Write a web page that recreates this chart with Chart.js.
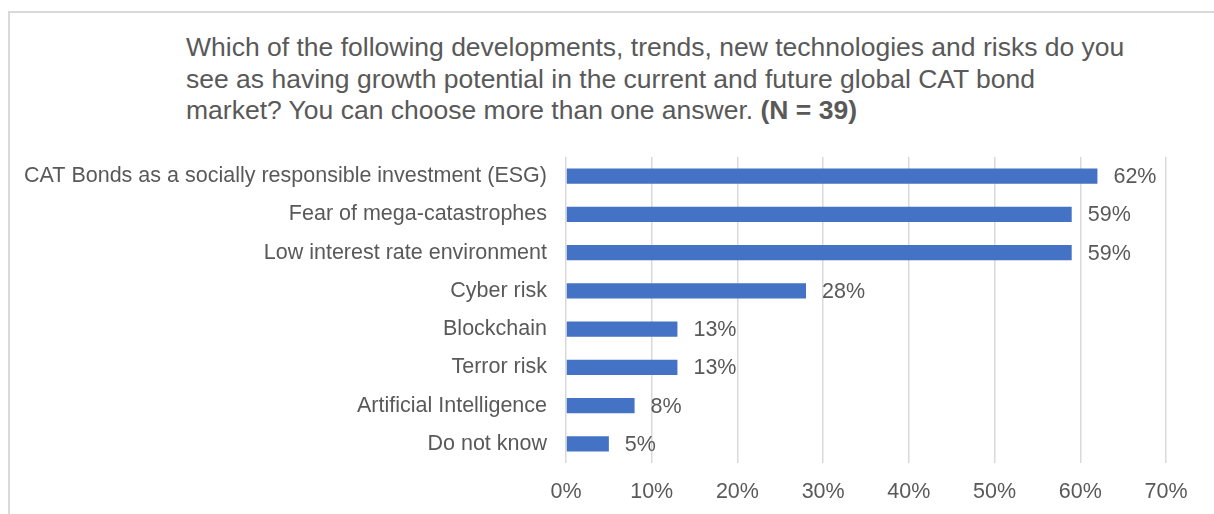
<!DOCTYPE html>
<html>
<head>
<meta charset="utf-8">
<script src="https://cdn.jsdelivr.net/npm/chart.js@4/dist/chart.umd.min.js"></script>
<style>
  html, body { margin: 0; padding: 0; background: #fff; }
  #wrap { position: relative; width: 1214px; height: 514px; overflow: hidden; }
  #frame {
    position: absolute; left: 8px; top: 11px; width: 1300px; height: 600px;
    border-top: 2px solid #d9d9d9; border-left: 2px solid #d9d9d9;
  }
  #title {
    position: absolute; left: 186px; top: 32px; width: 1020px;
    font-family: "Liberation Sans", Arial, sans-serif; font-size: 26.5px;
    line-height: 31.5px; color: #595959; white-space: nowrap;
  }
  #pointsChart { position: absolute; left: 0; top: 0; }
</style>
</head>
<body>
<div id="wrap">
  <div id="frame"></div>
  <div id="title">Which of the following developments, trends, new technologies and risks do you<br>see as having growth potential in the current and future global CAT bond<br>market? You can choose more than one answer. <b>(N = 39)</b></div>
  <canvas id="pointsChart" width="1214" height="514"></canvas>
</div>
<script>
const categories = [
  'CAT Bonds as a socially responsible investment (ESG)',
  'Fear of mega-catastrophes',
  'Low interest rate environment',
  'Cyber risk',
  'Blockchain',
  'Terror risk',
  'Artificial Intelligence',
  'Do not know'
];
const shares = [62, 59, 59, 28, 13, 13, 8, 5];
const xTicks = [0, 10, 20, 30, 40, 50, 60, 70];

const textColor = '#595959';
const fontFamily = '"Liberation Sans", Arial, sans-serif';

// value labels to the right of each bar
const barLabels = {
  id: 'barLabels',
  afterDatasetsDraw(chart) {
    const ctx = chart.ctx;
    const meta = chart.getDatasetMeta(0);
    ctx.save();
    ctx.font = '21.5px ' + fontFamily;
    ctx.fillStyle = textColor;
    ctx.textAlign = 'left';
    ctx.textBaseline = 'middle';
    meta.data.forEach(function(bar, i) {
      ctx.fillText(shares[i] + '%', bar.x + 16, bar.y + 1);
    });
    ctx.restore();
  }
};

document.addEventListener('DOMContentLoaded', function() {
  const ctx = document.getElementById('pointsChart');
  new Chart(ctx, {
    type: 'bar',
    data: {
      labels: categories,
      datasets: [{
        data: shares,
        backgroundColor: '#4472C4',
        categoryPercentage: 1,
        barPercentage: 0.4
      }]
    },
    options: {
      indexAxis: 'y',
      responsive: false,
      animation: false,
      layout: { padding: { top: 157, right: 48, bottom: 0, left: 0 } },
      plugins: {
        legend: { display: false },
        tooltip: { enabled: false }
      },
      scales: {
        x: {
          min: 0,
          max: 70,
          afterBuildTicks: function(scale) {
            scale.ticks = xTicks.map(function(v) { return { value: v }; });
          },
          afterFit: function(scale) { scale.height = 51; },
          border: { display: false },
          grid: { color: '#d9d9d9', lineWidth: 1.5, drawTicks: false },
          ticks: {
            padding: 16,
            color: textColor,
            font: { family: fontFamily, size: 21.5 },
            callback: function(v) { return v + '%'; }
          }
        },
        y: {
          afterFit: function(scale) { scale.width = 566; },
          border: { display: false },
          grid: { display: false, drawTicks: false },
          ticks: {
            padding: 19,
            color: textColor,
            font: { family: fontFamily, size: 21.5 }
          }
        }
      }
    },
    plugins: [barLabels]
  });
});
</script>
</body>
</html>
